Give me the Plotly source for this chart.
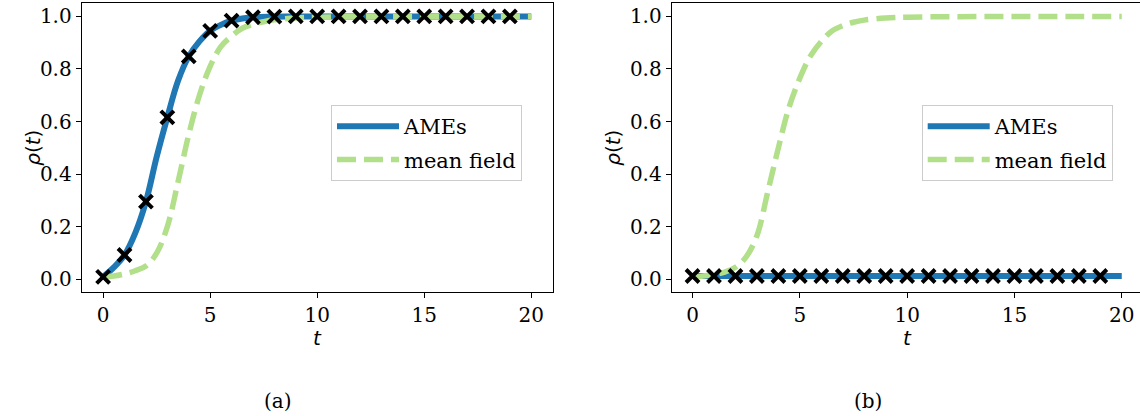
import plotly.graph_objects as go

# ---------------- data ----------------
t_curve_left = [0, 0.5, 1, 1.5, 2, 2.5, 3, 3.5, 4, 4.5, 5, 5.5, 6, 6.5, 7, 8,
                9, 10, 12, 14, 16, 18, 20]
ames_left = [0.009, 0.045, 0.092, 0.175, 0.295, 0.465, 0.616, 0.755, 0.848, 0.905,
             0.945, 0.968, 0.984, 0.992, 0.997, 0.999,
             1.0, 1.0, 1.0, 1.0, 1.0, 1.0, 1.0]

t_mf = [0, 0.5, 1, 1.5, 2, 2.5, 3, 3.5, 4, 4.5, 5, 5.5, 6, 6.5, 7, 7.5, 8,
        9, 10, 12, 14, 16, 18, 20]
mf_left = [0.009, 0.012, 0.02, 0.032, 0.05, 0.099, 0.2, 0.37, 0.55, 0.70, 0.81,
           0.885, 0.925, 0.955, 0.97, 0.98, 0.987, 0.994, 0.997, 0.999,
           1.0, 1.0, 1.0, 1.0]
mf_right = [0.009, 0.012, 0.018, 0.027, 0.045, 0.085, 0.165, 0.33, 0.5, 0.655,
            0.765, 0.85, 0.905, 0.945, 0.965, 0.978, 0.986, 0.994, 0.997, 0.999,
            1.0, 1.0, 1.0, 1.0]

t_ames_right = [0, 20]
ames_right = [0.012, 0.012]

t_sim = list(range(20))
sim_left = [0.009, 0.092, 0.295, 0.616, 0.848, 0.945, 0.984, 0.997, 0.999, 1.0,
            1.0, 1.0, 1.0, 1.0, 1.0, 1.0, 1.0, 1.0, 1.0, 1.0]
sim_right = [0.012] * 20

x_ticks = [0, 5, 10, 15, 20]
y_ticks = [0.0, 0.2, 0.4, 0.6, 0.8, 1.0]
y_tick_labels = ["0.0", "0.2", "0.4", "0.6", "0.8", "1.0"]
panel_labels = ["(a)", "(b)"]

# ---------------- styles ----------------
W, H = 1140, 416
BLUE = "#1f77b4"
GREEN = "#b2df8a"
SERIF = "DejaVu Serif"
SANS = "DejaVu Sans"

fig = go.Figure()

def add_panel(xa, ya, legend, t_a, ames, mf, sim):
    fig.add_trace(go.Scatter(x=t_a, y=ames, mode="lines", name="AMEs",
                             line=dict(color=BLUE, width=6, shape="spline"),
                             xaxis=xa, yaxis=ya, legend=legend,
                             legendgroup=legend + "a"))
    fig.add_trace(go.Scatter(x=t_mf, y=mf, mode="lines", name="mean field",
                             line=dict(color=GREEN, width=5.5, shape="spline",
                                       dash="19px,8px"),
                             xaxis=xa, yaxis=ya, legend=legend,
                             legendgroup=legend + "b"))
    fig.add_trace(go.Scatter(x=t_sim, y=sim, mode="markers", showlegend=False,
                             marker=dict(symbol="x-thin", size=13, color="black",
                                         line=dict(color="black", width=4)),
                             xaxis=xa, yaxis=ya))

add_panel("x", "y", "legend", t_curve_left, ames_left, mf_left, sim_left)
add_panel("x2", "y2", "legend2", t_ames_right, ames_right, mf_right, sim_right)

ybot = 1 - 292.3 / H
ytop = 1 - 3.3 / H

axis_common = dict(showline=True, mirror=True, linecolor="black", linewidth=1,
                   ticks="outside", ticklen=5, tickwidth=1, tickcolor="black",
                   showgrid=False, zeroline=False,
                   tickfont=dict(family=SERIF, size=20, color="black"))

xd1 = [81.7 / W, 552.7 / W]
xd2 = [671.7 / W, 1.0]

legend_common = dict(xanchor="left", yanchor="top",
                     bgcolor="rgba(255,255,255,0.8)", bordercolor="#cccccc",
                     borderwidth=1, itemwidth=62, tracegroupgap=3,
                     traceorder="grouped", entrywidth=170,
                     entrywidthmode="pixels",
                     font=dict(family=SERIF, size=21, color="black"))

fig.update_layout(
    width=W, height=H,
    margin=dict(l=0, r=0, t=0, b=0),
    paper_bgcolor="white", plot_bgcolor="white",
    xaxis=dict(domain=xd1, range=[-1, 21], tickvals=x_ticks, anchor="y",
               **axis_common),
    yaxis=dict(domain=[ybot, ytop], range=[-0.05, 1.05], tickvals=y_ticks,
               ticktext=y_tick_labels, anchor="x", **axis_common),
    xaxis2=dict(domain=xd2, range=[-0.97, 20.85], tickvals=x_ticks, anchor="y2",
                **axis_common),
    yaxis2=dict(domain=[ybot, ytop], range=[-0.05, 1.05], tickvals=y_ticks,
                ticktext=y_tick_labels, anchor="x2", **axis_common),
    legend=dict(x=331 / W, y=1 - 105 / H, **legend_common),
    legend2=dict(x=921.7 / W, y=1 - 105 / H, **legend_common),
)

# axis titles and panel labels
ann = []
for cx, ylx in [((81.7 + 552.7) / 2, 33), ((671.7 + 1143.5) / 2, 613)]:
    ann.append(dict(x=cx / W, y=1 - 338 / H, xref="paper", yref="paper",
                    text="<i>t</i>", showarrow=False, xanchor="center",
                    yanchor="middle", font=dict(family=SANS, size=20, color="black")))
    ann.append(dict(x=ylx / W, y=1 - 147.8 / H, xref="paper", yref="paper",
                    text="<i>ρ</i>(<i>t</i>)", showarrow=False, textangle=-90,
                    xanchor="center", yanchor="middle",
                    font=dict(family=SANS, size=20, color="black")))
for cx, lab in [(277.5, panel_labels[0]), (868, panel_labels[1])]:
    ann.append(dict(x=cx / W, y=1 - 401 / H, xref="paper", yref="paper",
                    text=lab, showarrow=False, xanchor="center", yanchor="middle",
                    font=dict(family=SERIF, size=20, color="black")))
fig.update_layout(annotations=ann)

fig.write_html("out.html",
               config={"displayModeBar": False},
               post_script="document.body.style.margin='0';"
                           "document.body.style.overflow='hidden';")
